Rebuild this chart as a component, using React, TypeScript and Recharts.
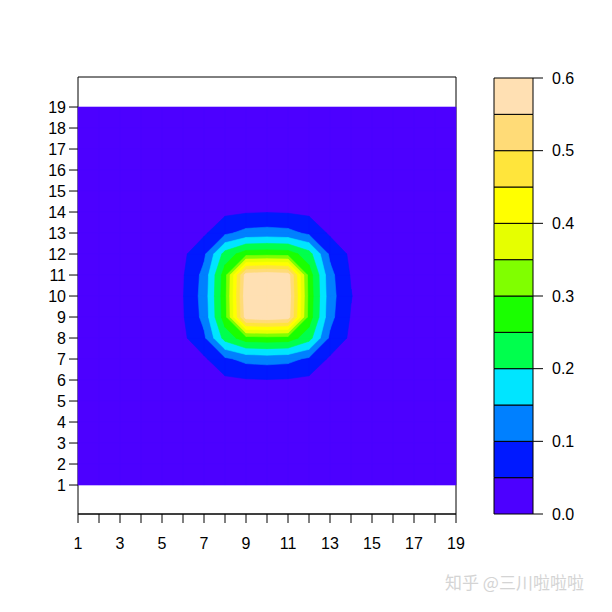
import React from "react"
import { ScatterChart, Scatter, XAxis, YAxis, ReferenceArea, BarChart, Bar } from "recharts"

// grid coordinates
const xValues = [1, 2, 3, 4, 5, 6, 7, 8, 9, 10, 11, 12, 13, 14, 15, 16, 17, 18, 19]
const yValues = [1, 2, 3, 4, 5, 6, 7, 8, 9, 10, 11, 12, 13, 14, 15, 16, 17, 18, 19]

// z values, one row per y (x = 1..19)
const zY01 = [0, 0, 0, 0, 0, 0, 0, 0, 0, 0, 0, 0, 0, 0, 0, 0, 0, 0, 0]
const zY02 = [0, 0, 0, 0, 0, 0, 0, 0, 0, 0, 0, 0, 0, 0, 0, 0, 0, 0, 0]
const zY03 = [0, 0, 0, 0, 0, 0, 0.001, 0.001, 0.001, 0.001, 0.001, 0.001, 0.001, 0, 0, 0, 0, 0, 0]
const zY04 = [0, 0, 0, 0, 0.001, 0.002, 0.003, 0.004, 0.005, 0.005, 0.005, 0.004, 0.003, 0.002, 0.001, 0, 0, 0, 0]
const zY05 = [0, 0, 0, 0.001, 0.002, 0.005, 0.008, 0.012, 0.015, 0.015, 0.015, 0.012, 0.008, 0.005, 0.002, 0.001, 0, 0, 0]
const zY06 = [0, 0, 0, 0.002, 0.005, 0.011, 0.02, 0.04, 0.046, 0.048, 0.046, 0.04, 0.02, 0.011, 0.005, 0.002, 0, 0, 0]
const zY07 = [0, 0, 0.001, 0.003, 0.008, 0.02, 0.042, 0.09, 0.115, 0.12, 0.115, 0.09, 0.042, 0.02, 0.008, 0.003, 0.001, 0, 0]
const zY08 = [0, 0, 0.001, 0.004, 0.012, 0.04, 0.09, 0.22, 0.278, 0.282, 0.278, 0.22, 0.09, 0.04, 0.012, 0.004, 0.001, 0, 0]
const zY09 = [0, 0, 0.001, 0.005, 0.015, 0.046, 0.115, 0.278, 0.576, 0.588, 0.576, 0.278, 0.115, 0.046, 0.015, 0.005, 0.001, 0, 0]
const zY10 = [0, 0, 0.001, 0.005, 0.015, 0.048, 0.12, 0.282, 0.588, 0.6, 0.588, 0.282, 0.12, 0.052, 0.015, 0.005, 0.001, 0, 0]
const zY11 = [0, 0, 0.001, 0.005, 0.015, 0.046, 0.115, 0.278, 0.576, 0.588, 0.576, 0.278, 0.115, 0.046, 0.015, 0.005, 0.001, 0, 0]
const zY12 = [0, 0, 0.001, 0.004, 0.012, 0.04, 0.09, 0.22, 0.278, 0.282, 0.278, 0.22, 0.09, 0.04, 0.012, 0.004, 0.001, 0, 0]
const zY13 = [0, 0, 0.001, 0.003, 0.008, 0.02, 0.042, 0.09, 0.115, 0.12, 0.115, 0.09, 0.042, 0.02, 0.008, 0.003, 0.001, 0, 0]
const zY14 = [0, 0, 0, 0.002, 0.005, 0.011, 0.02, 0.04, 0.046, 0.048, 0.046, 0.04, 0.02, 0.011, 0.005, 0.002, 0, 0, 0]
const zY15 = [0, 0, 0, 0.001, 0.002, 0.005, 0.008, 0.012, 0.015, 0.015, 0.015, 0.012, 0.008, 0.005, 0.002, 0.001, 0, 0, 0]
const zY16 = [0, 0, 0, 0, 0.001, 0.002, 0.003, 0.004, 0.005, 0.005, 0.005, 0.004, 0.003, 0.002, 0.001, 0, 0, 0, 0]
const zY17 = [0, 0, 0, 0, 0, 0, 0.001, 0.001, 0.001, 0.001, 0.001, 0.001, 0.001, 0, 0, 0, 0, 0, 0]
const zY18 = [0, 0, 0, 0, 0, 0, 0, 0, 0, 0, 0, 0, 0, 0, 0, 0, 0, 0, 0]
const zY19 = [0, 0, 0, 0, 0, 0, 0, 0, 0, 0, 0, 0, 0, 0, 0, 0, 0, 0, 0]

const zRows = [zY01, zY02, zY03, zY04, zY05, zY06, zY07, zY08, zY09, zY10, zY11, zY12, zY13, zY14, zY15, zY16, zY17, zY18, zY19]

// contour levels and topo colours
const levels = [0, 0.05, 0.1, 0.15, 0.2, 0.25, 0.3, 0.35, 0.4, 0.45, 0.5, 0.55, 0.6]
const levelColors = [
  "#4C00FF", "#0019FF", "#0080FF", "#00E5FF", "#00FF4D", "#1AFF00",
  "#80FF00", "#E6FF00", "#FFFF00", "#FFE53B", "#FFDB77", "#FFE0B3",
]
const axisTicks = [1, 2, 3, 4, 5, 6, 7, 8, 9, 10, 11, 12, 13, 14, 15, 16, 17, 18, 19]
const keyTicks = [0, 0.1, 0.2, 0.3, 0.4, 0.5, 0.6]

const yDomain: [number, number] = [-0.38, 20.43]
const font = "'Liberation Sans', Arial, sans-serif"

type Pt = { x: number; y: number }

// region where z >= level, cell by cell
function bandPolygons(level: number): Pt[][] {
  const polys: Pt[][] = []
  for (let j = 0; j < yValues.length - 1; j++) {
    for (let i = 0; i < xValues.length - 1; i++) {
      const corners = [
        { x: xValues[i], y: yValues[j], v: zRows[j][i] },
        { x: xValues[i + 1], y: yValues[j], v: zRows[j][i + 1] },
        { x: xValues[i + 1], y: yValues[j + 1], v: zRows[j + 1][i + 1] },
        { x: xValues[i], y: yValues[j + 1], v: zRows[j + 1][i] },
      ]
      const poly: Pt[] = []
      for (let e = 0; e < 4; e++) {
        const a = corners[e]
        const b = corners[(e + 1) % 4]
        const inA = a.v >= level
        const inB = b.v >= level
        if (inA) poly.push({ x: a.x, y: a.y })
        if (inA !== inB) {
          const t = (level - a.v) / (b.v - a.v)
          poly.push({ x: a.x + t * (b.x - a.x), y: a.y + t * (b.y - a.y) })
        }
      }
      if (poly.length >= 3) polys.push(poly)
    }
  }
  return polys
}

const bands = levels.slice(0, -1).map((lv, k) => {
  const polys = bandPolygons(lv)
  return { polys, points: polys.flat(), color: levelColors[k] }
})

const makeBandShape = (polys: Pt[][], color: string) => (props: any) => {
  const pts = props.points || []
  let idx = 0
  let d = ""
  for (const poly of polys) {
    for (let n = 0; n < poly.length; n++) {
      const p = pts[idx++]
      if (!p) continue
      d += (n === 0 ? "M" : "L") + p.x + "," + p.y
    }
    d += "Z"
  }
  return <path d={d} fill={color} stroke={color} strokeWidth={0.6} />
}

const keyRow = [
  levels.slice(0, -1).reduce((row: any, lv, k) => {
    row["b" + k] = levels[k + 1] - lv
    return row
  }, { name: "z" }),
]

export default function App() {
  return (
    <div style={{ position: "relative", width: 604, height: 604, fontFamily: font }}>
      <ScatterChart width={604} height={604} margin={{ top: 69, right: 156, bottom: 58, left: 40 }}>
        <XAxis
          type="number"
          dataKey="x"
          domain={[1, 19]}
          ticks={axisTicks}
          interval={0}
          tickFormatter={(v) => (v % 2 === 1 ? String(v) : "")}
          height={40}
          tickSize={9}
          tickMargin={15}
          stroke="#000"
          tick={{ fill: "#000", fontSize: 16, fontFamily: font }}
        />
        <YAxis
          type="number"
          dataKey="y"
          domain={yDomain}
          allowDataOverflow
          ticks={axisTicks}
          interval={0}
          width={30}
          tickSize={9}
          tickMargin={3}
          stroke="#000"
          axisLine={false}
          tick={{ fill: "#000", fontSize: 16, fontFamily: font }}
        />
        {bands.map((b, k) => (
          <Scatter
            key={k}
            data={b.points}
            fill={b.color}
            line={makeBandShape(b.polys, b.color)}
            lineType="joint"
            shape={() => <g />}
            isAnimationActive={false}
          />
        ))}
        <ReferenceArea x1={1} x2={19} y1={yDomain[0]} y2={yDomain[1]} fill="none" stroke="#000" strokeWidth={1} />
      </ScatterChart>

      <div style={{ position: "absolute", left: 480, top: 0 }}>
        <BarChart width={124} height={604} data={keyRow} margin={{ top: 70, right: 19, bottom: 98, left: 6 }} barCategoryGap={0}>
          <XAxis dataKey="name" hide />
          <YAxis
            orientation="right"
            domain={[0, 0.6]}
            ticks={keyTicks}
            interval={0}
            width={60}
            tickSize={10}
            tickMargin={9}
            axisLine={false}
            stroke="#000"
            tickFormatter={(v) => Number(v).toFixed(1)}
            tick={{ fill: "#000", fontSize: 16, fontFamily: font }}
          />
          {levelColors.map((c, k) => (
            <Bar key={k} dataKey={"b" + k} stackId="key" fill={c} stroke="#000" strokeWidth={1} isAnimationActive={false} />
          ))}
        </BarChart>
      </div>

      <div
        style={{
          position: "absolute",
          left: 437,
          top: 565,
          fontSize: 17,
          lineHeight: 1,
          color: "#d4d4d4",
          fontFamily: "'Noto Sans CJK SC', sans-serif",
          whiteSpace: "nowrap",
        }}
      >
        知乎 @三川啦啦啦
      </div>
    </div>
  )
}
